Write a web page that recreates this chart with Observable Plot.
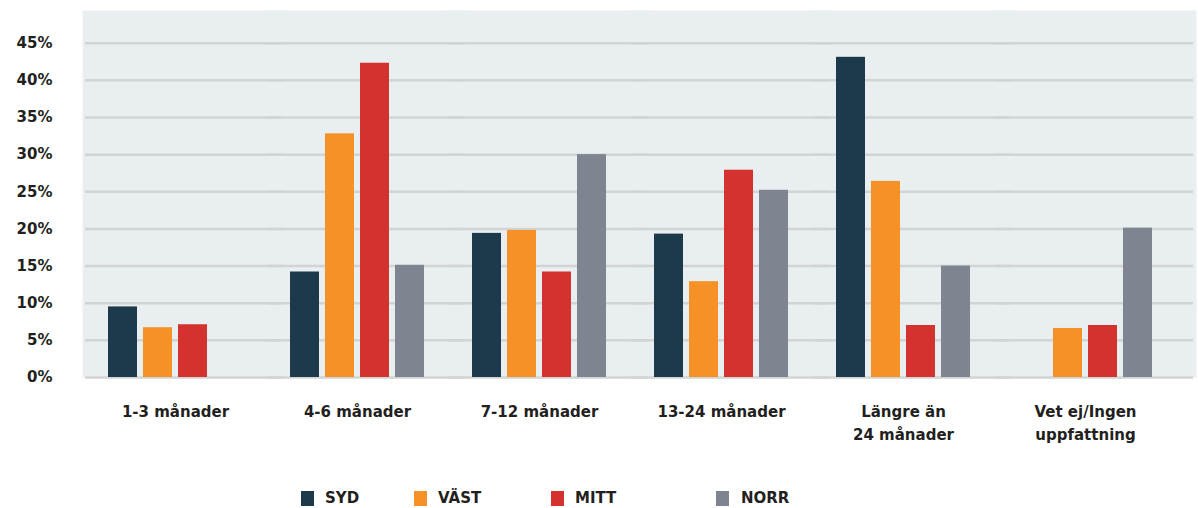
<!DOCTYPE html>
<html>
<head>
<meta charset="utf-8">
<script src="https://cdn.jsdelivr.net/npm/d3@7"></script>
<script src="https://cdn.jsdelivr.net/npm/@observablehq/plot@0.6"></script>
<style>
  html, body { margin: 0; padding: 0; background: #ffffff; }
  body { width: 1198px; height: 508px; overflow: hidden; font-family: "DejaVu Sans", sans-serif; }
  #legend { position: relative; height: 48px; font-weight: bold; font-size: 15px; color: #231f20; }
  #legend .item { position: absolute; top: 29px; display: flex; align-items: center; }
  #legend .sw { width: 13px; height: 15px; margin-right: 11px; }
  #legend .item:nth-child(1) { left: 301px; }
  #legend .item:nth-child(2) { left: 414px; }
  #legend .item:nth-child(3) { left: 551px; }
  #legend .item:nth-child(4) { left: 716px; }
  #legend .item:nth-child(4) .sw { margin-right: 12px; }
</style>
</head>
<body>
<div id="chart"></div>
<div id="legend"></div>
<script>
const categories = ["1-3 månader", "4-6 månader", "7-12 månader", "13-24 månader", "Längre än\n24 månader", "Vet ej/Ingen\nuppfattning"];
const regions = ["SYD", "VÄST", "MITT", "NORR"];
const colors = ["#1d3a4c", "#f59127", "#d3322f", "#7e8490"];
const syd  = [9.5, 14.2, 19.4, 19.3, 43.1, null];
const vast = [6.7, 32.8, 19.8, 12.9, 26.4, 6.6];
const mitt = [7.1, 42.3, 14.2, 27.9, 7.0, 7.0];
const norr = [null, 15.1, 30.0, 25.2, 15.0, 20.1];
const yTicks = [0, 5, 10, 15, 20, 25, 30, 35, 40, 45];

const series = [syd, vast, mitt, norr];
const data = [];
categories.forEach((c, i) => {
  regions.forEach((r, j) => {
    data.push({category: c, region: r, value: series[j][i]});
  });
});

const chart = Plot.plot({
  width: 1198,
  height: 460,
  marginTop: 10,
  marginBottom: 83,
  marginLeft: 82,
  marginRight: 0,
  style: {fontFamily: "DejaVu Sans", fontWeight: "bold", fontSize: "15px", color: "#231f20", background: "#ffffff"},
  fx: {domain: categories, paddingInner: 0, paddingOuter: 0.05, align: 0.1, label: null, axis: null},
  x: {domain: regions, axis: null, paddingInner: 0.17, paddingOuter: 0.67},
  y: {domain: [0, 49.4], label: null},
  color: {domain: regions, range: colors},
  marks: [
    Plot.frame({fill: "#e9eef1", stroke: "none", insetLeft: -2, insetRight: -20}),
    Plot.ruleY(yTicks, {stroke: "#d2d4d4", strokeWidth: 2.5, insetLeft: 1, insetRight: -17}),
    Plot.barY(data.filter(d => d.value != null), {fx: "category", x: "region", y: "value", fill: "region"}),
    Plot.axisY({ticks: yTicks, tickSize: 0, tickPadding: 32, tickFormat: d => d + "%", label: null}),
    Plot.axisFx({anchor: "bottom", tickSize: 0, tickPadding: 24, lineHeight: 1.5, label: null})
  ]
});
document.getElementById("chart").appendChild(chart);

const legend = document.getElementById("legend");
regions.forEach((r, i) => {
  const item = document.createElement("div");
  item.className = "item";
  const sw = document.createElement("span");
  sw.className = "sw";
  sw.style.background = colors[i];
  const t = document.createElement("span");
  t.textContent = r;
  item.appendChild(sw);
  item.appendChild(t);
  legend.appendChild(item);
});
</script>
</body>
</html>
